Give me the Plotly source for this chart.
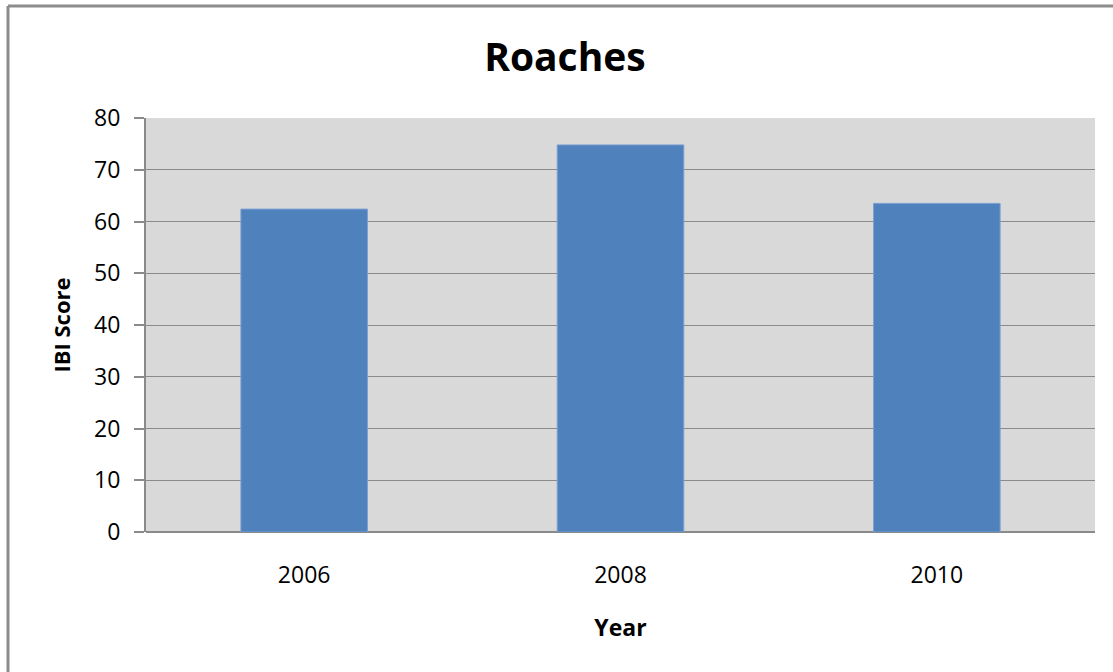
import plotly.graph_objects as go

# IBI scores for the Roaches site by sampling year
years = ["2006", "2008", "2010"]
ibi_scores = [62.4, 74.8, 63.5]
y_ticks = [0, 10, 20, 30, 40, 50, 60, 70, 80]

FONT = "Open Sans"
FRAME = dict(color="#8c8c8c", width=3)

# chart-area frame edges, in paper units of the plot area
frame_left = (8 - 146) / 949
frame_top = 1 + (117.7 - 5.5) / 414.6

fig = go.Figure(
    go.Bar(
        x=years,
        y=ibi_scores,
        marker=dict(color="#4f81bd", line=dict(color="#7a9fd2", width=1)),
        hoverinfo="x+y",
    )
)

fig.update_layout(
    width=1113,
    height=672,
    margin=dict(l=146, r=18, t=118, b=140),
    paper_bgcolor="#ffffff",
    plot_bgcolor="#d9d9d9",
    bargap=0.6,
    showlegend=False,
    font=dict(family=FONT, color="#000000", size=23),
    title=dict(
        text="<b>Roaches</b>",
        font=dict(family=FONT, size=39, color="#000000"),
        x=0.5076,
        xref="container",
        xanchor="center",
        y=1 - 57 / 672,
        yref="container",
        yanchor="middle",
    ),
    xaxis=dict(
        showgrid=False,
        showline=False,
        ticks="",
        ticklabelstandoff=27,
        tickfont=dict(family=FONT, size=23, color="#000000"),
        title=dict(
            text="<b>Year</b>",
            font=dict(family=FONT, size=23, color="#000000"),
            standoff=30,
        ),
    ),
    yaxis=dict(
        range=[0, 80],
        tickvals=y_ticks,
        showgrid=True,
        gridcolor="#8a8a8a",
        gridwidth=1.2,
        zeroline=True,
        zerolinecolor="#8a8a8a",
        zerolinewidth=2,
        showline=True,
        linecolor="#8a8a8a",
        linewidth=2,
        ticks="outside",
        ticklen=10,
        tickcolor="#8a8a8a",
        tickwidth=1.5,
        ticklabelstandoff=9,
        tickfont=dict(family=FONT, size=23, color="#000000"),
        title=dict(
            text="<b>IBI Score</b>",
            font=dict(family=FONT, size=22, color="#000000"),
            standoff=17,
        ),
    ),
    shapes=[
        dict(type="line", xref="paper", yref="paper",
             x0=frame_left, x1=frame_left, y0=-1, y1=frame_top,
             line=FRAME, layer="below"),
        dict(type="line", xref="paper", yref="paper",
             x0=frame_left, x1=1.5, y0=frame_top, y1=frame_top,
             line=FRAME, layer="below"),
    ],
)

# keep the page exactly the size of the figure, without scrollbars
page_css = (
    "document.body.style.margin='0';"
    "document.body.style.overflow='hidden';"
    "document.documentElement.style.overflow='hidden';"
)

fig.write_html("out.html", post_script=page_css)
